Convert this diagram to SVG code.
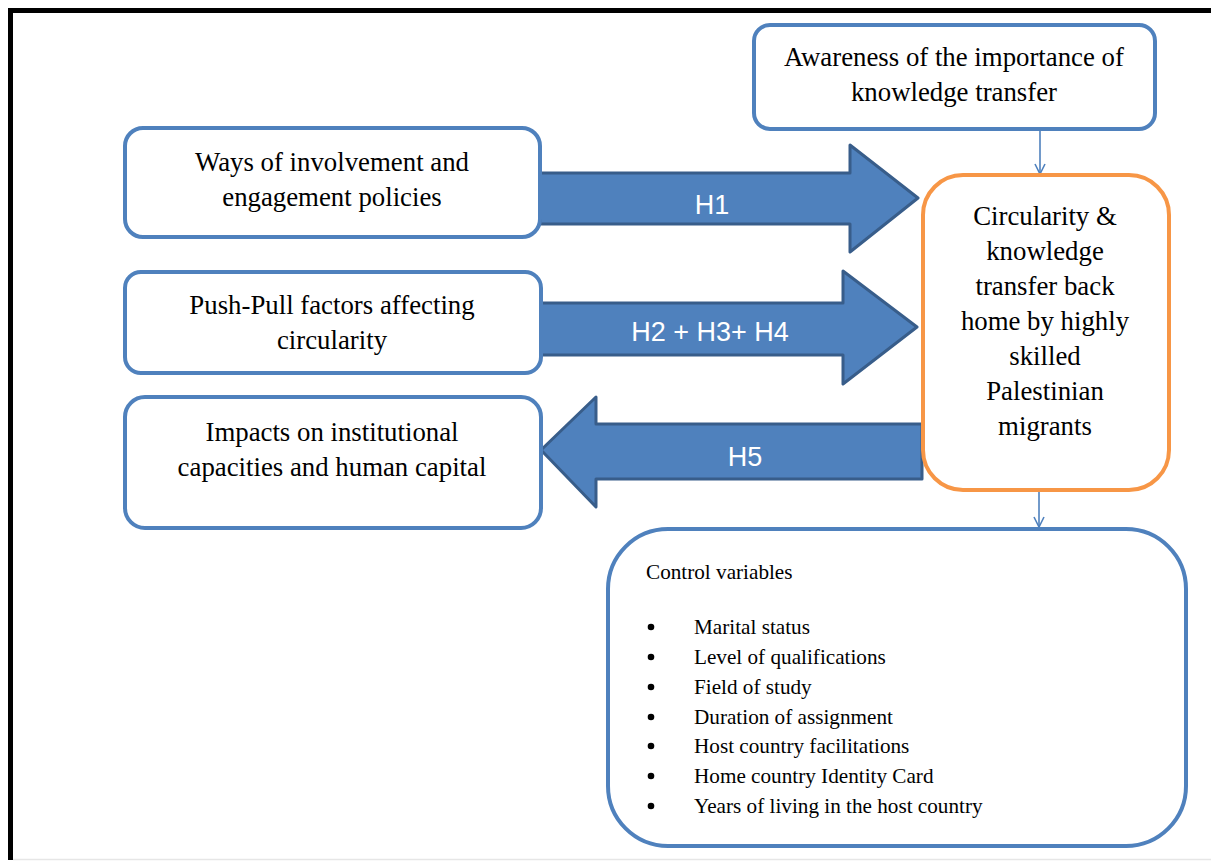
<svg xmlns="http://www.w3.org/2000/svg" width="1211" height="861" viewBox="0 0 1211 861">
  <style>
    .box { fill: #fff; stroke: #4F81BD; stroke-width: 4; }
    .core { fill: #fff; stroke: #F79646; stroke-width: 4; }
    .big { fill: #4F81BD; stroke: #385D8A; stroke-width: 3; stroke-linejoin: round; }
    .t { font-family: "Liberation Serif", "Times New Roman", serif; font-size: 26.8px; fill: #000; text-anchor: middle; }
    .s { font-family: "Liberation Serif", "Times New Roman", serif; font-size: 21.2px; fill: #000; }
    .h { font-family: "Liberation Sans", Arial, sans-serif; font-size: 27px; fill: #fff; text-anchor: middle; }
    .thin { stroke: #4F81BD; stroke-width: 1.6; fill: none; }
  </style>
  <defs>
    <marker id="vee" viewBox="0 0 12 12" refX="11" refY="6" markerWidth="12" markerHeight="12" markerUnits="userSpaceOnUse" orient="auto">
      <path d="M1,1 L11,6 L1,11" fill="none" stroke="#4F81BD" stroke-width="1.6"/>
    </marker>
  </defs>

  <rect width="1211" height="861" fill="#fff"/>
  <!-- page frame -->
  <path d="M10.5,860 V10.5 H1211" fill="none" stroke="#000" stroke-width="5"/>
  <line x1="13" y1="859.5" x2="1211" y2="859.5" stroke="#e6e6e6" stroke-width="1.5"/>

  <g id="connectors">
    <line class="thin" x1="1040" y1="130" x2="1040" y2="174" marker-end="url(#vee)"/>
    <line class="thin" x1="1039" y1="490" x2="1039" y2="527" marker-end="url(#vee)"/>
    <g id="arrow-h1">
      <path class="big" d="M540,173 H850 V145 L918,198 L850,252 V224 H540 Z"/>
      <text class="h" x="712" y="214">H1</text>
    </g>
    <g id="arrow-h2">
      <path class="big" d="M540,303 H843 V271 L917,327 L843,384 V355 H540 Z"/>
      <text class="h" x="710" y="341">H2 + H3+ H4</text>
    </g>
    <g id="arrow-h5">
      <path class="big" d="M922,424 H596 V397 L541,450 L596,507 V479 H922 Z"/>
      <text class="h" x="745" y="466">H5</text>
    </g>
  </g>

  <g id="awareness">
    <rect class="box" x="754" y="25" width="401" height="104" rx="16"/>
    <text class="t" x="954" y="66">Awareness of the importance of</text>
    <text class="t" x="954" y="101">knowledge transfer</text>
  </g>

  <g id="involvement">
    <rect class="box" x="125" y="128" width="415" height="109" rx="18"/>
    <text class="t" x="332" y="171">Ways of involvement and</text>
    <text class="t" x="332" y="206">engagement policies</text>
  </g>

  <g id="push-pull">
    <rect class="box" x="125" y="272" width="416" height="101" rx="16"/>
    <text class="t" x="332" y="314">Push-Pull factors affecting</text>
    <text class="t" x="332" y="349">circularity</text>
  </g>

  <g id="impacts">
    <rect class="box" x="125" y="397" width="416" height="131" rx="20"/>
    <text class="t" x="332" y="441">Impacts on institutional</text>
    <text class="t" x="332" y="476">capacities and human capital</text>
  </g>

  <g id="circularity">
    <rect class="core" x="923" y="175" width="246" height="315" rx="40"/>
    <text class="t" x="1045" y="225">Circularity &amp;</text>
    <text class="t" x="1045" y="260">knowledge</text>
    <text class="t" x="1045" y="295">transfer back</text>
    <text class="t" x="1045" y="330">home by highly</text>
    <text class="t" x="1045" y="365">skilled</text>
    <text class="t" x="1045" y="400">Palestinian</text>
    <text class="t" x="1045" y="435">migrants</text>
  </g>

  <g id="control-variables">
    <rect class="box" x="608" y="529" width="578" height="317" rx="60"/>
    <text class="s" x="646" y="579">Control variables</text>
    <g fill="#000">
      <circle cx="651" cy="627" r="3.3"/>
      <circle cx="651" cy="657" r="3.3"/>
      <circle cx="651" cy="687" r="3.3"/>
      <circle cx="651" cy="717" r="3.3"/>
      <circle cx="651" cy="746" r="3.3"/>
      <circle cx="651" cy="776" r="3.3"/>
      <circle cx="651" cy="806" r="3.3"/>
    </g>
    <text class="s" x="694" y="634">Marital status</text>
    <text class="s" x="694" y="664">Level of qualifications</text>
    <text class="s" x="694" y="694">Field of study</text>
    <text class="s" x="694" y="724">Duration of assignment</text>
    <text class="s" x="694" y="753">Host country facilitations</text>
    <text class="s" x="694" y="783">Home country Identity Card</text>
    <text class="s" x="694" y="813">Years of living in the host country</text>
  </g>
</svg>
